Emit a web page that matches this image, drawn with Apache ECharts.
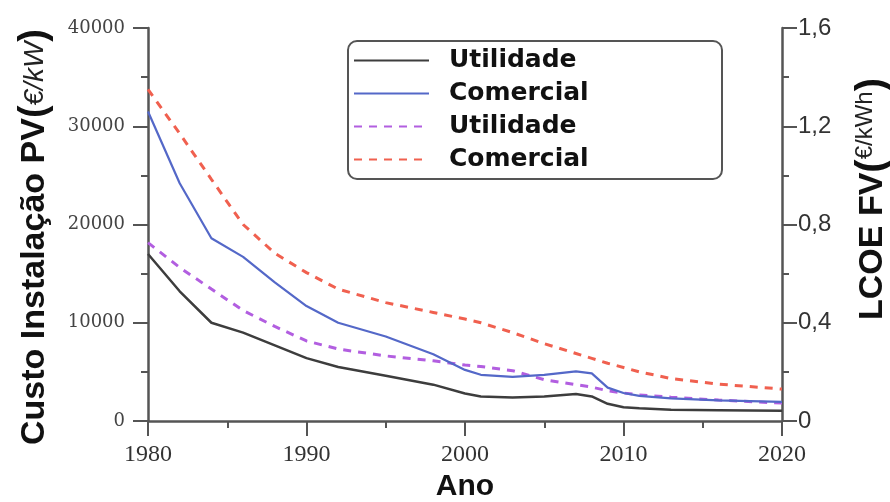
<!DOCTYPE html>
<html>
<head>
<meta charset="utf-8">
<script src="https://cdn.jsdelivr.net/npm/echarts@6/dist/echarts.min.js"></script>
<style>
  html, body { margin: 0; padding: 0; background: #fff; }
  #chart { width: 890px; height: 502px; }
</style>
</head>
<body>
<div id="chart"></div>
<script>
// ---- Data ----
const years = [1980, 1982, 1984, 1986, 1988, 1990, 1992, 1995, 1998, 2000, 2001, 2003, 2005, 2007, 2008, 2009, 2010, 2011, 2013, 2016, 2020];
// Installation cost (€/kW), left axis
const custoUtilidade = [17000, 13200, 10000, 9000, 7700, 6400, 5500, 4600, 3700, 2800, 2500, 2400, 2500, 2750, 2500, 1750, 1400, 1300, 1150, 1100, 1050];
const custoComercial = [31500, 24200, 18600, 16700, 14100, 11700, 10000, 8600, 6800, 5200, 4700, 4500, 4700, 5050, 4850, 3400, 2850, 2550, 2300, 2100, 1950];
// LCOE (€/kWh), right axis
const lcoeUtilidade = [0.726, 0.625, 0.537, 0.45, 0.385, 0.326, 0.293, 0.265, 0.245, 0.228, 0.222, 0.205, 0.168, 0.148, 0.138, 0.123, 0.114, 0.106, 0.097, 0.085, 0.073];
const lcoeComercial = [1.35, 1.17, 0.984, 0.80, 0.683, 0.604, 0.537, 0.482, 0.442, 0.415, 0.40, 0.36, 0.315, 0.275, 0.255, 0.235, 0.218, 0.20, 0.173, 0.15, 0.13];

const seriesNames = ['Utilidade|custo', 'Comercial|custo', 'Utilidade|lcoe', 'Comercial|lcoe'];
const xTitle = 'Ano';

const pairs = arr => years.map((y, i) => [y, arr[i]]);

const axisColor = '#555';
const chart = echarts.init(document.getElementById('chart'), null, { renderer: 'canvas' });

chart.setOption({
  animation: false,
  backgroundColor: '#fff',
  grid: { left: 148, right: 108, top: 28, bottom: 81, containLabel: false, outerBoundsMode: 'none' },
  legend: {
    orient: 'vertical',
    left: 348,
    top: 41,
    data: seriesNames,
    formatter: n => n.split('|')[0],
    itemWidth: 75,
    itemHeight: 25,
    itemGap: 8,
    padding: [7, 3, 7, 5],
    backgroundColor: '#fff',
    borderColor: '#555',
    borderWidth: 2,
    borderRadius: 9,
    selectedMode: false,
    itemStyle: { opacity: 0 },
    textStyle: {
      fontFamily: 'DejaVu Sans',
      fontWeight: 'bold',
      fontSize: 25,
      color: '#111',
      padding: [0, 0, 0, 15],
      width: 270,
      lineHeight: 25
    }
  },
  xAxis: {
    type: 'value',
    min: 1980, max: 2020, interval: 10,
    name: xTitle,
    nameLocation: 'middle',
    nameGap: 50,
    nameTextStyle: { fontFamily: 'Liberation Sans', fontWeight: 'bold', fontSize: 30, color: '#111', lineHeight: 30 },
    axisLine: { show: true, onZero: false, lineStyle: { color: axisColor, width: 2.5 } },
    axisTick: { show: true, inside: false, length: 15, lineStyle: { color: axisColor, width: 2 } },
    minorTick: { show: true, splitNumber: 2, length: 7, lineStyle: { color: axisColor, width: 2 } },
    splitLine: { show: false },
    minorSplitLine: { show: false },
    axisLabel: { fontFamily: 'Liberation Serif', fontSize: 24, color: '#333', margin: 22, formatter: v => String(v) }
  },
  yAxis: [
    {
      type: 'value', position: 'left',
      min: 0, max: 40000, interval: 10000,
      axisLine: { show: true, onZero: false, lineStyle: { color: axisColor, width: 2.5 } },
      axisTick: { show: true, inside: false, length: 15, lineStyle: { color: axisColor, width: 2 } },
      minorTick: { show: true, splitNumber: 2, length: 7, lineStyle: { color: axisColor, width: 2 } },
      splitLine: { show: false },
      minorSplitLine: { show: false },
      axisLabel: { fontFamily: 'DejaVu Serif', fontSize: 18, color: '#444', margin: 23, formatter: v => String(v) }
    },
    {
      type: 'value', position: 'right',
      min: 0, max: 1.6, interval: 0.4,
      axisLine: { show: true, onZero: false, lineStyle: { color: axisColor, width: 2.5 } },
      axisTick: { show: true, inside: false, length: 15, lineStyle: { color: axisColor, width: 2 } },
      minorTick: { show: true, splitNumber: 2, length: 7, lineStyle: { color: axisColor, width: 2 } },
      splitLine: { show: false },
      minorSplitLine: { show: false },
      axisLabel: {
        fontFamily: 'Liberation Sans', fontSize: 24, color: '#333', margin: 16,
        formatter: v => v === 0 ? '0' : v.toFixed(1).replace('.', ',')
      }
    }
  ],
  graphic: [
    {
      type: 'text',
      x: 35, y: 237,
      rotation: Math.PI / 2,
      style: {
        text: '{a|Custo Instalação PV}{p|(}{u|€/kW}{p|)}',
        align: 'center',
        verticalAlign: 'middle',
        fill: '#111',
        rich: {
          a: { fontFamily: 'Liberation Sans', fontWeight: 'bold', fontSize: 34, fill: '#111' },
          p: { fontFamily: 'Liberation Sans', fontWeight: 'bold', fontSize: 38, fill: '#111' },
          u: { fontFamily: 'Liberation Sans', fontStyle: 'italic', fontWeight: 'normal', fontSize: 28, fill: '#222' }
        }
      }
    },
    {
      type: 'text',
      x: 873, y: 199,
      rotation: Math.PI / 2,
      style: {
        text: '{a|LCOE FV}{p|(}{u|€/kWh}{p|)}',
        align: 'center',
        verticalAlign: 'middle',
        fill: '#111',
        rich: {
          a: { fontFamily: 'Liberation Sans', fontWeight: 'bold', fontSize: 34, fill: '#111' },
          p: { fontFamily: 'Liberation Sans', fontWeight: 'bold', fontSize: 40, fill: '#111' },
          u: { fontFamily: 'Liberation Sans', fontWeight: 'normal', fontSize: 24, fill: '#222', verticalAlign: 'top' }
        }
      }
    }
  ],
  series: [
    {
      name: seriesNames[3], type: 'line', yAxisIndex: 1, data: pairs(lcoeComercial),
      symbol: 'none', z: 2,
      lineStyle: { color: '#f0604f', width: 3, type: [8, 7] }, itemStyle: { color: '#f0604f' }
    },
    {
      name: seriesNames[2], type: 'line', yAxisIndex: 1, data: pairs(lcoeUtilidade),
      symbol: 'none', z: 3,
      lineStyle: { color: '#b25ee0', width: 3, type: [8, 7] }, itemStyle: { color: '#b25ee0' }
    },
    {
      name: seriesNames[1], type: 'line', yAxisIndex: 0, data: pairs(custoComercial),
      symbol: 'none', z: 4,
      lineStyle: { color: '#5468c8', width: 2.2 }, itemStyle: { color: '#5468c8' }
    },
    {
      name: seriesNames[0], type: 'line', yAxisIndex: 0, data: pairs(custoUtilidade),
      symbol: 'none', z: 5,
      lineStyle: { color: '#3d3d3d', width: 2.5 }, itemStyle: { color: '#3d3d3d' }
    }
  ]
});
</script>
</body>
</html>
